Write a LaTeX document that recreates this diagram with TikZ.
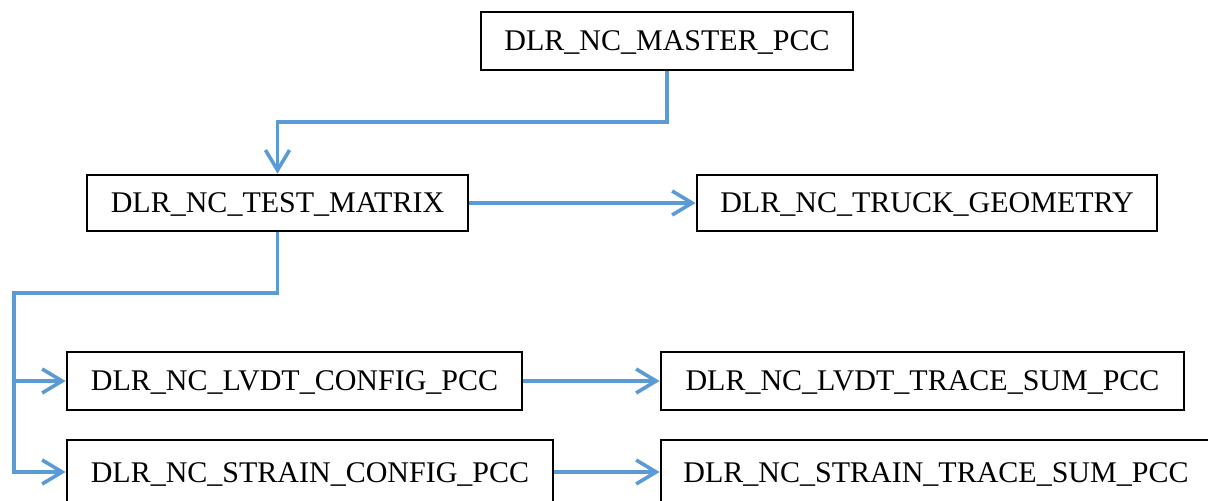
\documentclass[tikz,border=0pt]{standalone}
\usepackage{fontspec}
\setmainfont{Liberation Serif}
\usetikzlibrary{arrows.meta}
\definecolor{connblue}{RGB}{91,155,213}
\begin{document}
\begin{tikzpicture}[x=0.5pt,y=-0.5pt,
  box/.style={draw=black,line width=1.4pt,fill=white,inner sep=0pt,text height=10pt,text depth=0pt,font=\fontsize{15pt}{18pt}\selectfont},
  conn/.style={draw=connblue,line width=1.8pt,-{Straight Barb[length=10pt,width=12pt]}}]
\useasboundingbox (0,0) rectangle (1208,501);
\clip (0,0) rectangle (1208,501);
\node[box,minimum width=186pt,minimum height=29pt] (m) at (667,41) {DLR\_NC\_MASTER\_PCC};
\node[box,minimum width=190.5pt,minimum height=28pt] (t) at (277.5,203) {DLR\_NC\_TEST\_MATRIX};
\node[box,minimum width=230pt,minimum height=28pt] (tr) at (927,203) {DLR\_NC\_TRUCK\_GEOMETRY};
\node[box,minimum width=227.5pt,minimum height=29pt] (lc) at (294.5,381) {DLR\_NC\_LVDT\_CONFIG\_PCC};
\node[box,minimum width=261.5pt,minimum height=29pt] (lt) at (922.5,381) {DLR\_NC\_LVDT\_TRACE\_SUM\_PCC};
\node[box,minimum width=243pt,minimum height=32pt] (sc) at (310,472) {DLR\_NC\_STRAIN\_CONFIG\_PCC};
\node[box,minimum width=275pt,minimum height=32pt] (st) at (936,472) {DLR\_NC\_STRAIN\_TRACE\_SUM\_PCC};
\coordinate (j1) at (667,122);
\coordinate (j2) at (14,293);
\draw[conn] (m.south) -- (j1) -| (t.north);
\draw[conn] (t.east) -- (tr.west);
\draw[conn] (t.south) |- (j2) |- (sc.west);
\draw[conn] (j2 |- lc.west) -- (lc.west);
\draw[conn] (lc.east) -- (lt.west);
\draw[conn] (sc.east) -- (st.west);
\end{tikzpicture}
\end{document}
